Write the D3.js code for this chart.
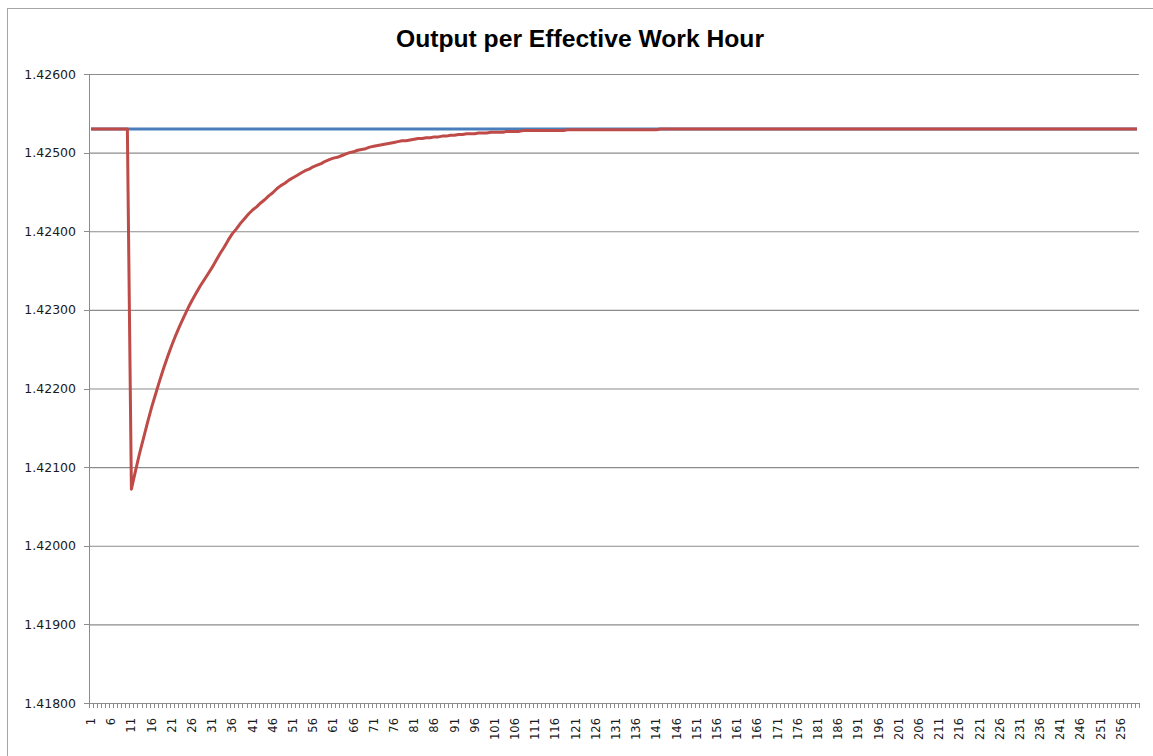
<!DOCTYPE html>
<html>
<head>
<meta charset="utf-8">
<script src="https://cdn.jsdelivr.net/npm/d3@7"></script>
<style>
    body { margin: 0; background: #fff; }
    .frame { fill: none; stroke: #a6a6a6; stroke-width: 1; }
    .grid line { stroke: #8c8c8c; stroke-width: 1.2; }
    .grid .domain { display: none; }
    .axis path, .axis line { stroke: #8c8c8c; shape-rendering: crispEdges; }
    .axis text { font-family: "DejaVu Sans", sans-serif; fill: #1a1a1a; }
    .title { font-family: "Liberation Sans", Arial, sans-serif; font-weight: bold; font-size: 23px; fill: #000; }
    .line { fill: none; stroke-width: 3; stroke-linejoin: round; }
</style>
</head>
<body>
<script>
//period numbers on the x axis (1..260)
var periods = d3.range(1, 261);

//y axis tick values
var yTicks = [1.418, 1.419, 1.420, 1.421, 1.422, 1.423, 1.424, 1.425, 1.426];

//baseline series (blue), flat
var baseline = [
    1.4253,1.4253,1.4253,1.4253,1.4253,1.4253,1.4253,1.4253,1.4253,1.4253,
    1.4253,1.4253,1.4253,1.4253,1.4253,1.4253,1.4253,1.4253,1.4253,1.4253,
    1.4253,1.4253,1.4253,1.4253,1.4253,1.4253,1.4253,1.4253,1.4253,1.4253,
    1.4253,1.4253,1.4253,1.4253,1.4253,1.4253,1.4253,1.4253,1.4253,1.4253,
    1.4253,1.4253,1.4253,1.4253,1.4253,1.4253,1.4253,1.4253,1.4253,1.4253,
    1.4253,1.4253,1.4253,1.4253,1.4253,1.4253,1.4253,1.4253,1.4253,1.4253,
    1.4253,1.4253,1.4253,1.4253,1.4253,1.4253,1.4253,1.4253,1.4253,1.4253,
    1.4253,1.4253,1.4253,1.4253,1.4253,1.4253,1.4253,1.4253,1.4253,1.4253,
    1.4253,1.4253,1.4253,1.4253,1.4253,1.4253,1.4253,1.4253,1.4253,1.4253,
    1.4253,1.4253,1.4253,1.4253,1.4253,1.4253,1.4253,1.4253,1.4253,1.4253,
    1.4253,1.4253,1.4253,1.4253,1.4253,1.4253,1.4253,1.4253,1.4253,1.4253,
    1.4253,1.4253,1.4253,1.4253,1.4253,1.4253,1.4253,1.4253,1.4253,1.4253,
    1.4253,1.4253,1.4253,1.4253,1.4253,1.4253,1.4253,1.4253,1.4253,1.4253,
    1.4253,1.4253,1.4253,1.4253,1.4253,1.4253,1.4253,1.4253,1.4253,1.4253,
    1.4253,1.4253,1.4253,1.4253,1.4253,1.4253,1.4253,1.4253,1.4253,1.4253,
    1.4253,1.4253,1.4253,1.4253,1.4253,1.4253,1.4253,1.4253,1.4253,1.4253,
    1.4253,1.4253,1.4253,1.4253,1.4253,1.4253,1.4253,1.4253,1.4253,1.4253,
    1.4253,1.4253,1.4253,1.4253,1.4253,1.4253,1.4253,1.4253,1.4253,1.4253,
    1.4253,1.4253,1.4253,1.4253,1.4253,1.4253,1.4253,1.4253,1.4253,1.4253,
    1.4253,1.4253,1.4253,1.4253,1.4253,1.4253,1.4253,1.4253,1.4253,1.4253,
    1.4253,1.4253,1.4253,1.4253,1.4253,1.4253,1.4253,1.4253,1.4253,1.4253,
    1.4253,1.4253,1.4253,1.4253,1.4253,1.4253,1.4253,1.4253,1.4253,1.4253,
    1.4253,1.4253,1.4253,1.4253,1.4253,1.4253,1.4253,1.4253,1.4253,1.4253,
    1.4253,1.4253,1.4253,1.4253,1.4253,1.4253,1.4253,1.4253,1.4253,1.4253,
    1.4253,1.4253,1.4253,1.4253,1.4253,1.4253,1.4253,1.4253,1.4253,1.4253,
    1.4253,1.4253,1.4253,1.4253,1.4253,1.4253,1.4253,1.4253,1.4253,1.4253
];

//shocked series (red): drop at period 11, then recovery
var shocked = [
    1.4253,1.4253,1.4253,1.4253,1.4253,1.4253,1.4253,1.4253,1.4253,1.4253,
    1.42072,1.42095,1.42117,1.42137,1.42157,1.42176,1.42193,1.42210,1.42226,1.42241,
    1.42255,1.42268,1.42280,1.42291,1.42302,1.42312,1.42321,1.42330,1.42338,1.42346,
    1.42354,1.42363,1.42372,1.42380,1.42389,1.42397,1.42403,1.42410,1.42416,1.42422,
    1.42427,1.42431,1.42436,1.42440,1.42445,1.42449,1.42454,1.42458,1.42461,1.42465,
    1.42468,1.42471,1.42474,1.42477,1.42479,1.42482,1.42484,1.42486,1.42489,1.42491,
    1.42493,1.42494,1.42496,1.42498,1.42500,1.42501,1.42503,1.42504,1.42505,1.42507,
    1.42508,1.42509,1.42510,1.42511,1.42512,1.42513,1.42514,1.42515,1.42515,1.42516,
    1.42517,1.42518,1.42518,1.42519,1.42519,1.42520,1.42520,1.42521,1.42521,1.42522,
    1.42522,1.42523,1.42523,1.42524,1.42524,1.42524,1.42525,1.42525,1.42525,1.42526,
    1.42526,1.42526,1.42526,1.42527,1.42527,1.42527,1.42527,1.42528,1.42528,1.42528,
    1.42528,1.42528,1.42528,1.42528,1.42528,1.42528,1.42528,1.42528,1.42529,1.42529,
    1.42529,1.42529,1.42529,1.42529,1.42529,1.42529,1.42529,1.42529,1.42529,1.42529,
    1.42529,1.42529,1.42529,1.42529,1.42529,1.42529,1.42529,1.42529,1.42529,1.42529,
    1.42529,1.4253,1.4253,1.4253,1.4253,1.4253,1.4253,1.4253,1.4253,1.4253,
    1.4253,1.4253,1.4253,1.4253,1.4253,1.4253,1.4253,1.4253,1.4253,1.4253,
    1.4253,1.4253,1.4253,1.4253,1.4253,1.4253,1.4253,1.4253,1.4253,1.4253,
    1.4253,1.4253,1.4253,1.4253,1.4253,1.4253,1.4253,1.4253,1.4253,1.4253,
    1.4253,1.4253,1.4253,1.4253,1.4253,1.4253,1.4253,1.4253,1.4253,1.4253,
    1.4253,1.4253,1.4253,1.4253,1.4253,1.4253,1.4253,1.4253,1.4253,1.4253,
    1.4253,1.4253,1.4253,1.4253,1.4253,1.4253,1.4253,1.4253,1.4253,1.4253,
    1.4253,1.4253,1.4253,1.4253,1.4253,1.4253,1.4253,1.4253,1.4253,1.4253,
    1.4253,1.4253,1.4253,1.4253,1.4253,1.4253,1.4253,1.4253,1.4253,1.4253,
    1.4253,1.4253,1.4253,1.4253,1.4253,1.4253,1.4253,1.4253,1.4253,1.4253,
    1.4253,1.4253,1.4253,1.4253,1.4253,1.4253,1.4253,1.4253,1.4253,1.4253,
    1.4253,1.4253,1.4253,1.4253,1.4253,1.4253,1.4253,1.4253,1.4253,1.4253
];

window.onload = drawChart();

function drawChart(){
    //canvas and plot area
    var width = 1153,
        height = 756;
    var left = 89, right = 1139, top = 74, bottom = 703;

    var svg = d3.select("body")
        .append("svg")
        .attr("width", width)
        .attr("height", height);

    //chart border (right and bottom run off the picture)
    svg.append("rect")
        .attr("class", "frame")
        .attr("x", 7.5)
        .attr("y", 8.5)
        .attr("width", 1170)
        .attr("height", 780);

    //scales
    var x = d3.scaleBand()
        .domain(periods)
        .range([left, right])
        .padding(0);

    //linear twin of x, used for tick marks between categories
    var xEdge = d3.scaleLinear()
        .domain([0, periods.length])
        .range([left, right]);

    var y = d3.scaleLinear()
        .domain([1.418, 1.426])
        .range([bottom, top]);

    //horizontal gridlines
    svg.append("g")
        .attr("class", "grid")
        .attr("transform", "translate(" + left + ",0)")
        .call(d3.axisLeft(y).tickValues(yTicks.slice(1)).tickSize(-(right - left)).tickFormat(""));

    //y axis
    svg.append("g")
        .attr("class", "axis")
        .attr("transform", "translate(" + left + ",0)")
        .call(d3.axisLeft(y).tickValues(yTicks).tickSize(5).tickSizeOuter(0).tickPadding(8).tickFormat(d3.format(".5f")))
        .selectAll("text")
        .style("font-size", "12.5px");

    //x axis tick marks at category edges
    svg.append("g")
        .attr("class", "axis")
        .attr("transform", "translate(0," + bottom + ")")
        .call(d3.axisBottom(xEdge).tickValues(d3.range(0, periods.length + 1)).tickSize(5).tickSizeOuter(0).tickFormat(""));

    //x axis labels every 5th period, rotated
    var xLabels = svg.append("g")
        .attr("class", "axis")
        .attr("transform", "translate(0," + bottom + ")")
        .call(d3.axisBottom(x).tickValues(periods.filter(function(d){ return (d - 1) % 5 == 0; })).tickSize(0));
    xLabels.select(".domain").remove();
    xLabels.selectAll("text")
        .style("font-size", "11.5px")
        .attr("transform", "rotate(-90)")
        .attr("text-anchor", "end")
        .attr("x", -15)
        .attr("y", 0)
        .attr("dy", "0.35em");

    //line generator
    var line = d3.line()
        .x(function(d, i){ return x(periods[i]) + x.bandwidth() / 2; })
        .y(function(d){ return y(d); });

    svg.append("path")
        .datum(baseline)
        .attr("class", "line")
        .attr("stroke", "#4a7ebb")
        .attr("d", line);

    svg.append("path")
        .datum(shocked)
        .attr("class", "line")
        .attr("stroke", "#be4b48")
        .attr("d", line);

    //title
    svg.append("text")
        .attr("class", "title")
        .attr("x", 580)
        .attr("y", 47)
        .attr("text-anchor", "middle")
        .attr("textLength", 368)
        .attr("lengthAdjust", "spacingAndGlyphs")
        .text("Output per Effective Work Hour");
};
</script>
</body>
</html>
